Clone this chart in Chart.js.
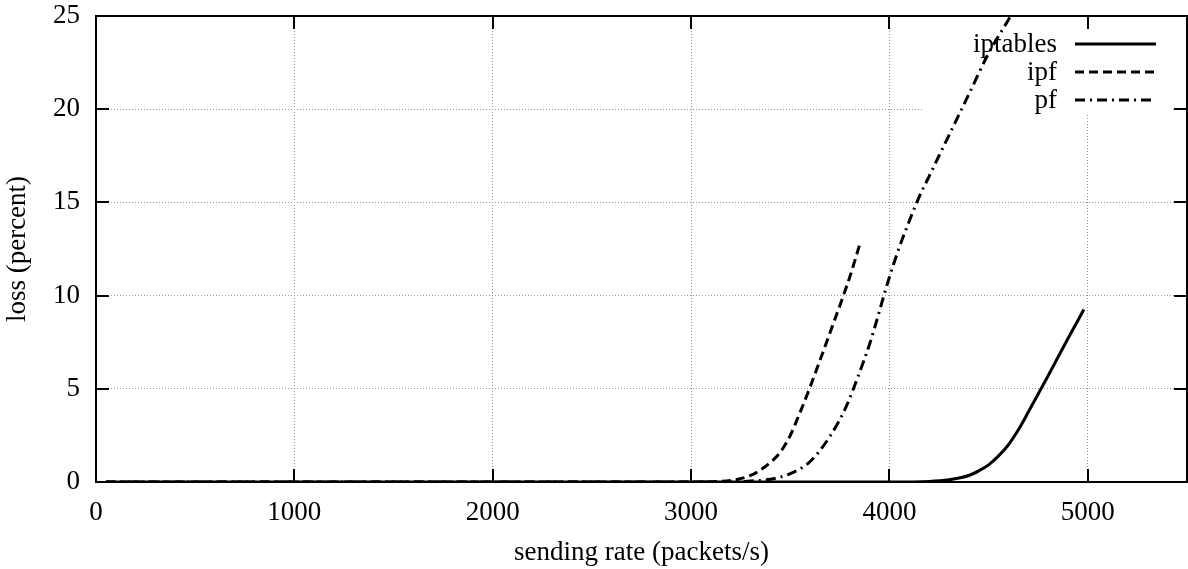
<!DOCTYPE html>
<html>
<head>
<meta charset="utf-8">
<script src="https://cdn.jsdelivr.net/npm/chart.js@4/dist/chart.umd.min.js"></script>
<style>
  html, body { margin: 0; padding: 0; background: #fff; }
  #wrap { width: 1188px; height: 569px; }
</style>
</head>
<body>
<div id="wrap"><canvas id="lossChart"></canvas></div>
<script>
/* ===== valores ===== */
const iptablesRate = [50, 1000, 2000, 3000, 4000, 4200, 4300, 4400, 4450, 4500, 4550, 4600, 4650, 4700, 4800, 4900, 4980];
const iptablesLoss = [0, 0, 0, 0, 0, 0.03, 0.12, 0.35, 0.6, 0.92, 1.4, 2.0, 2.8, 3.75, 5.7, 7.7, 9.25];

const ipfRate = [50, 1000, 2000, 3000, 3100, 3200, 3300, 3350, 3400, 3450, 3500, 3550, 3600, 3700, 3800, 3853];
const ipfLoss = [0, 0, 0, 0, 0.02, 0.08, 0.35, 0.65, 1.05, 1.6, 2.5, 3.75, 5.1, 8.0, 11.0, 12.85];

const pfRate = [50, 1000, 2000, 3000, 3200, 3300, 3400, 3500, 3600, 3700, 3780, 3850, 3900, 4000, 4050, 4100, 4150, 4200, 4300, 4400, 4500, 4600, 4700];
const pfLoss = [0, 0, 0, 0, 0, 0.05, 0.15, 0.45, 1.1, 2.45, 4.0, 5.9, 7.4, 11.0, 12.6, 14.0, 15.3, 16.4, 18.6, 20.8, 23.0, 24.8, 26.6];

const xTicks = [0, 1000, 2000, 3000, 4000, 5000];
const yTicks = [0, 5, 10, 15, 20, 25];

const serif = '"Liberation Serif", "Times New Roman", serif';

function pontos(xs, ys) {
  return xs.map((x, i) => ({ x: x, y: ys[i] }));
}

/* limpa a grelha por trás da legenda, como no gnuplot */
const fundoLegenda = {
  id: 'fundoLegenda',
  beforeDatasetsDraw(chart) {
    const c = chart.ctx;
    c.save();
    c.fillStyle = '#fff';
    c.fillRect(922, 18, 251, 95);
    c.restore();
  }
};

/* marcas dos eixos para dentro, nos quatro lados, e moldura */
const moldura = {
  id: 'moldura',
  afterDatasetsDraw(chart) {
    const c = chart.ctx;
    const a = chart.chartArea;
    const sx = chart.scales.x, sy = chart.scales.y;
    c.save();
    c.strokeStyle = '#000';
    c.lineWidth = 2;
    c.beginPath();
    xTicks.forEach(v => {
      const px = Math.round(sx.getPixelForValue(v));
      c.moveTo(px, a.bottom); c.lineTo(px, a.bottom - 13);
      c.moveTo(px, a.top); c.lineTo(px, a.top + 13);
    });
    yTicks.forEach(v => {
      const py = Math.round(sy.getPixelForValue(v));
      c.moveTo(a.left, py); c.lineTo(a.left + 13, py);
      c.moveTo(a.right, py); c.lineTo(a.right - 13, py);
    });
    c.stroke();
    c.strokeRect(a.left, a.top, a.right - a.left, a.bottom - a.top);
    c.restore();
  }
};

/* legenda estilo gnuplot: texto à direita, amostra da linha depois */
const legendaGnuplot = {
  id: 'legendaGnuplot',
  afterDraw(chart) {
    const c = chart.ctx;
    c.save();
    c.font = '27px ' + serif;
    c.fillStyle = '#000';
    c.textAlign = 'right';
    c.textBaseline = 'middle';
    chart.data.datasets.forEach((ds, i) => {
      const y = 44 + i * 28;
      c.fillText(ds.label, 1057, y + 1);
      c.strokeStyle = '#000';
      c.lineWidth = 3;
      c.setLineDash(ds.borderDash || []);
      c.beginPath();
      c.moveTo(1075, y);
      c.lineTo(1156, y);
      c.stroke();
    });
    c.restore();
  }
};

const ctx = document.getElementById('lossChart');

new Chart(ctx, {
  type: 'line',
  data: {
    datasets: [{
      label: 'iptables',
      data: pontos(iptablesRate, iptablesLoss),
      borderColor: '#000',
      borderWidth: 3,
      borderDash: [],
      pointRadius: 0,
      cubicInterpolationMode: 'monotone'
    }, {
      label: 'ipf',
      data: pontos(ipfRate, ipfLoss),
      borderColor: '#000',
      borderWidth: 3,
      borderDash: [9, 5],
      pointRadius: 0,
      cubicInterpolationMode: 'monotone'
    }, {
      label: 'pf',
      data: pontos(pfRate, pfLoss),
      borderColor: '#000',
      borderWidth: 3,
      borderDash: [10, 5, 2, 5],
      pointRadius: 0,
      cubicInterpolationMode: 'monotone'
    }]
  },
  options: {
    responsive: true,
    maintainAspectRatio: false,
    animation: false,
    layout: { padding: { top: 0, right: 1, left: 0, bottom: 0 } },
    plugins: {
      legend: { display: false },
      tooltip: { enabled: false }
    },
    scales: {
      x: {
        type: 'linear',
        min: 0,
        max: 5500,
        afterBuildTicks: s => { s.ticks = xTicks.map(v => ({ value: v })); },
        afterFit: s => { s.height = 87; s.paddingLeft = 0; s.paddingRight = 0; },
        ticks: {
          color: '#000',
          font: { family: serif, size: 27 },
          padding: 15,
          maxRotation: 0,
          callback: v => String(v)
        },
        grid: {
          color: '#999',
          lineWidth: 1,
          drawTicks: false,
          tickLength: 0
        },
        border: { display: false, dash: [1, 2] },
        title: {
          display: true,
          text: 'sending rate (packets/s)',
          color: '#000',
          font: { family: serif, size: 27 },
          padding: { top: 1, bottom: 0 }
        }
      },
      y: {
        type: 'linear',
        min: 0,
        max: 25,
        afterBuildTicks: s => { s.ticks = yTicks.map(v => ({ value: v })); },
        afterFit: s => { s.width = 96; s.paddingTop = 16; s.paddingBottom = 0; },
        ticks: {
          color: '#000',
          font: { family: serif, size: 27 },
          padding: 16,
          callback: v => String(v)
        },
        grid: {
          color: '#999',
          lineWidth: 1,
          drawTicks: false,
          tickLength: 0
        },
        border: { display: false, dash: [1, 2] },
        title: {
          display: true,
          text: 'loss (percent)',
          color: '#000',
          font: { family: serif, size: 27 },
          padding: { top: 2, bottom: 0 }
        }
      }
    }
  },
  plugins: [fundoLegenda, moldura, legendaGnuplot]
});
</script>
</body>
</html>
